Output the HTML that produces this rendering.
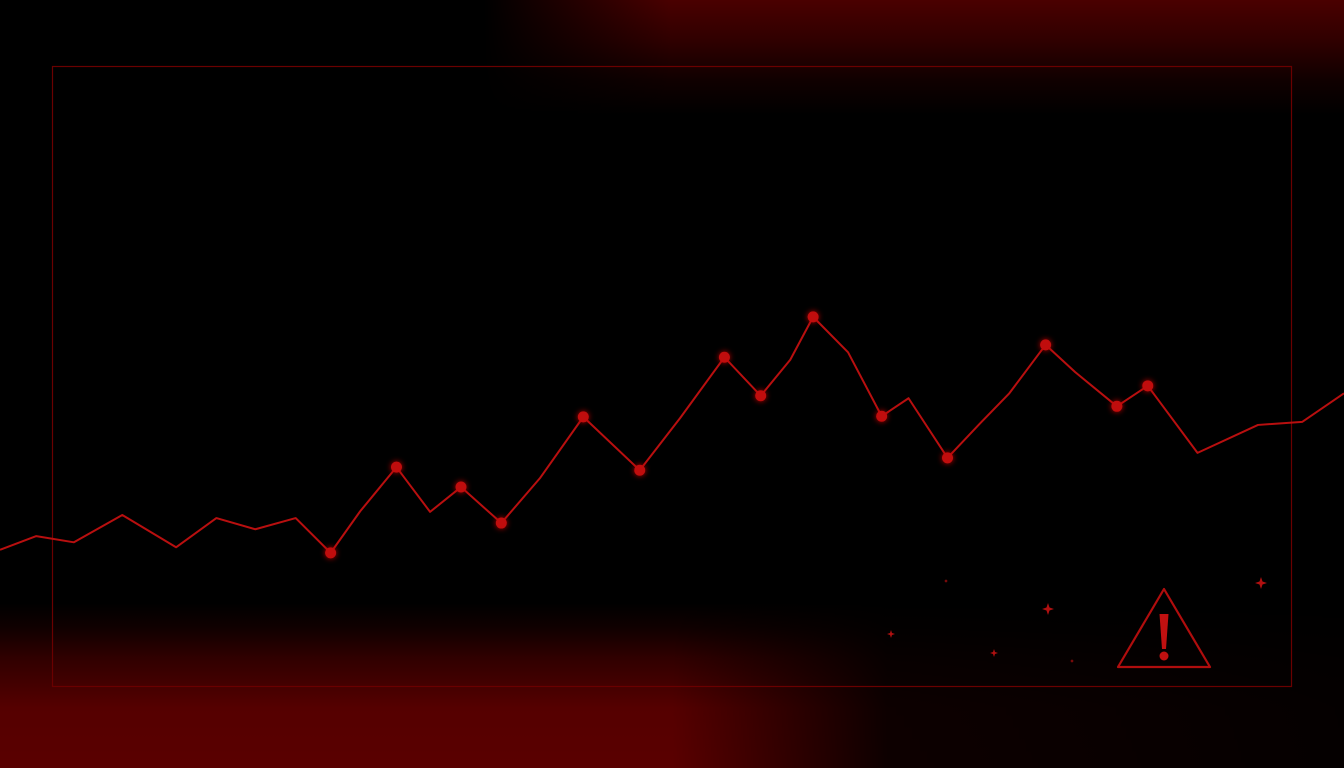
<!DOCTYPE html>
<html><head><meta charset="utf-8"><style>
html,body{margin:0;padding:0;background:#000;}
#wrap{position:relative;width:1344px;height:768px;overflow:hidden;background:#000;font-family:"Liberation Sans",sans-serif;}
.bg{position:absolute;left:0;top:0;width:1344px;height:768px;}
</style></head><body>
<div id="wrap">
<div style="position:absolute;left:0;top:0;width:1344px;height:120px;background:linear-gradient(90deg,rgba(0,0,0,1) 36%,rgba(0,0,0,0) 50%),linear-gradient(180deg,#4a0000 0px,#300000 40px,#100000 80px,rgba(0,0,0,0) 115px);"></div>
<div style="position:absolute;left:0;top:590px;width:1344px;height:178px;background:linear-gradient(90deg,rgba(0,0,0,0) 0%,rgba(0,0,0,0) 50%,rgba(0,0,0,0.85) 66%,rgba(0,0,0,0.95) 100%),linear-gradient(0deg,#5a0000 0px,#550000 60px,#300000 110px,#100000 140px,rgba(0,0,0,0) 165px);"></div>
<svg id="chart" class="bg" width="1344" height="768">
<defs><filter id="glow" x="-50%" y="-50%" width="200%" height="200%"><feGaussianBlur stdDeviation="3" result="b"/><feMerge><feMergeNode in="b"/><feMergeNode in="SourceGraphic"/></feMerge></filter></defs>
<rect x="52.5" y="66.5" width="1239" height="620" fill="none" stroke="#6a0000" stroke-width="1.2"/>
<g id="series"></g>
<g>
<path d="M1164 589 L1210 667 L1118 667 Z" fill="none" stroke="#b00d0d" stroke-width="2.2" stroke-linejoin="round"/>
<path d="M1159.5 614 L1168.5 614 L1166 649 L1162 649 Z" fill="#c01010"/>
<circle cx="1164" cy="656" r="4.5" fill="#c01010"/>
</g>
<g id="sparkles" fill="#b01010"></g>
</svg>
</div>
<script>
const xs=[0,2.7,5.5,9.1,13.1,16.1,19.0,22.0,24.6,26.8,29.5,32.0,34.3,37.3,40.2,43.4,47.6,50.6,53.9,56.6,58.8,60.5,63.1,65.6,67.6,70.5,72.9,75.1,77.8,80.0,83.1,85.4,89.1,93.6,96.9,100];
const values=[22.1,24.3,23.3,27.7,22.5,27.2,25.4,27.2,21.6,28.3,35.4,28.2,32.2,26.4,33.7,43.5,34.9,43.3,53.1,46.9,52.7,59.6,53.9,43.6,46.5,36.9,42.4,47.3,55.1,50.7,45.2,48.5,37.7,42.2,42.7,47.3];
const markerIdx=[8,10,12,13,15,16,18,19,21,23,25,28,30,31];
const sx=v=>v*13.44;
const sy=v=>687-v*6.21;
const NS='http://www.w3.org/2000/svg';
const g=document.getElementById('series');
const line=document.createElementNS(NS,'polyline');


line.setAttribute('points',xs.map((x,i)=>sx(x)+','+sy(values[i])).join(' '));
line.setAttribute('fill','none');line.setAttribute('stroke','#b80f0f');line.setAttribute('stroke-width','2');line.setAttribute('stroke-linejoin','round');
g.appendChild(line);
markerIdx.forEach(i=>{
const c=document.createElementNS(NS,'circle');


c.setAttribute('cx',sx(xs[i]));c.setAttribute('cy',sy(values[i]));c.setAttribute('r','5.5');
c.setAttribute('fill','#c00c0c');c.setAttribute('filter','url(#glow)');
g.appendChild(c);
});
const sparkX=[946,891,994,1048,1072,1261];
const sparkY=[581,634,653,609,661,583];
const sparkR=[2,4,4,6,2,6];
const sp=document.getElementById('sparkles');
sparkX.forEach((x,i)=>{
const y=sparkY[i],r=sparkR[i],w=r*0.25;
const p=document.createElementNS(NS,'path');


p.setAttribute('d',`M${x} ${y-r} L${x+w} ${y-w} L${x+r} ${y} L${x+w} ${y+w} L${x} ${y+r} L${x-w} ${y+w} L${x-r} ${y} L${x-w} ${y-w} Z`);
sp.appendChild(p);
});
</script>
</body></html>
